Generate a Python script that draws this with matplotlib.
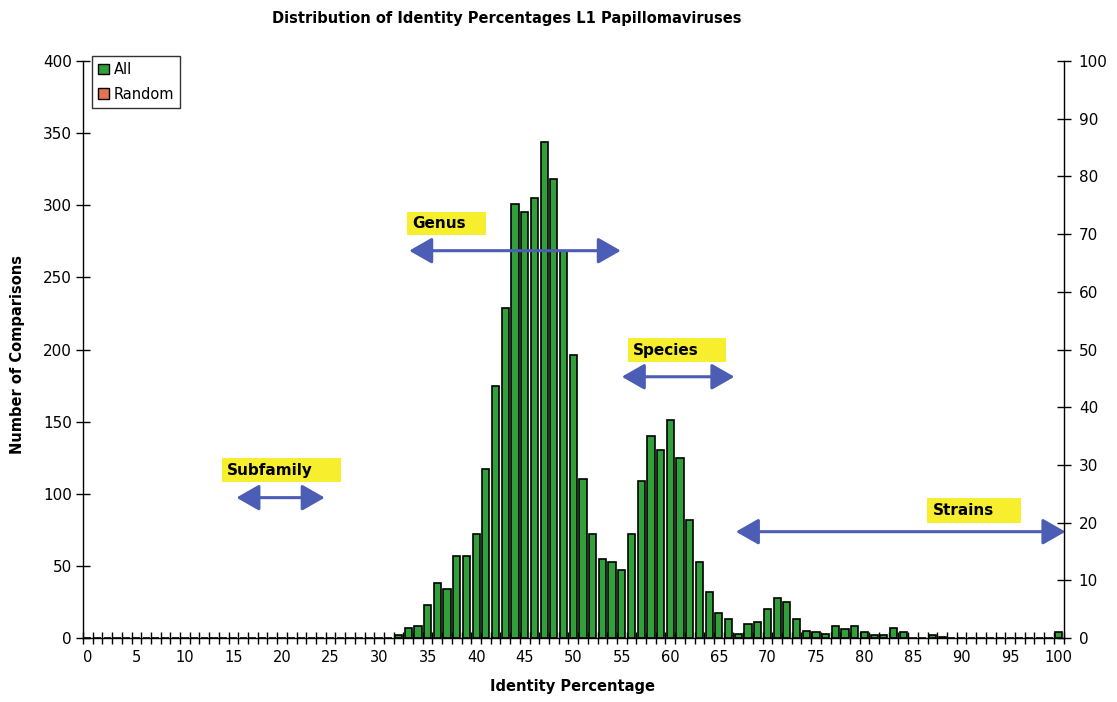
import matplotlib
matplotlib.use("Agg")
import matplotlib.pyplot as plt
from matplotlib.patches import Patch, Rectangle
import numpy as np

# ---------------- data ----------------
identity = list(range(0, 101))
all_counts = ([0] * 32 +
              [2, 7, 8, 23, 38, 34, 57, 57, 72, 117,          # 32-41
               175, 229, 301, 295, 305, 344, 318, 268, 196, 110,  # 42-51
               72, 55, 53, 47, 72, 109, 140, 130, 151, 125,   # 52-61
               82, 53, 32, 17, 13, 3, 10, 11, 20, 28,         # 62-71
               25, 13, 5, 4, 3, 8, 6, 8, 4, 2,                # 72-81
               2, 7, 4, 0, 0, 2, 1] +                         # 82-88
              [0] * 11 + [4])                                 # 89-99, 100
random_counts = [0] * 101

xtick_labels = [str(v) for v in range(0, 101, 5)]
left_yticks = list(range(0, 401, 50))
right_yticks = list(range(0, 101, 10))

# annotation ranges (data units): label, text x, box x0, x1, y0, y1, arrow x0, x1, arrow y
annotations = [
    ("Subfamily", 14.3, 13.8, 26.1, 108.1, 124.8, 15.3, 24.4, 97.3),
    ("Genus", 33.4, 32.9, 41.0, 279.4, 295.3, 33.1, 54.9, 268.5),
    ("Species", 56.1, 55.6, 65.7, 191.3, 208.0, 55.0, 66.6, 181.1),
    ("Strains", 87.0, 86.4, 96.1, 79.9, 97.1, 66.75, 100.7, 73.7),
]

GREEN = "#32a03a"
SALMON = "#e07455"
BLUE = "#4b5db4"
YELLOW = "#f7ef2e"

fig = plt.figure(figsize=(11.17, 7.02), dpi=100)
fig.patch.set_facecolor("white")
ax = fig.add_axes([83 / 1117, 1 - 638 / 702, (1063.5 - 83) / 1117, (638 - 61) / 702])

ax.bar(identity, all_counts, width=0.74, color=GREEN, edgecolor="black",
       linewidth=1.2, zorder=2)

ax.set_xlim(-0.5, 100.5)
ax.set_ylim(0, 400)

ax.set_xticks(range(0, 101, 5))
ax.set_xticklabels(xtick_labels, fontsize=10.5, family="DejaVu Sans")
ax.set_xticks(np.arange(-0.5, 101, 1.0), minor=True)
ax.tick_params(axis="x", which="major", length=0, pad=9)
ax.tick_params(axis="x", which="minor", direction="inout", length=8, width=1)

ax.set_yticks(left_yticks)
ax.set_yticklabels([str(v) for v in left_yticks], fontsize=11, family="DejaVu Sans")
ax.tick_params(axis="y", direction="inout", length=10, width=1, pad=3)

for s in ["top", "right"]:
    ax.spines[s].set_visible(False)
for s in ["left", "bottom"]:
    ax.spines[s].set_linewidth(1.0)

ax2 = ax.twinx()
ax2.bar(identity, random_counts, width=0.74, color=SALMON, edgecolor="none",
        linewidth=0, zorder=1)
ax2.set_ylim(0, 100)
ax2.set_yticks(right_yticks)
ax2.set_yticklabels([str(v) for v in right_yticks], fontsize=11, family="DejaVu Sans")
ax2.tick_params(axis="y", direction="inout", length=10, width=1, pad=6)
for s in ["top", "left", "bottom"]:
    ax2.spines[s].set_visible(False)
ax2.spines["right"].set_linewidth(1.0)

# annotations
for label, tx, bx0, bx1, by0, by1, ax0, ax1, ay in annotations:
    ax.add_patch(Rectangle((bx0, by0), bx1 - bx0, by1 - by0, facecolor=YELLOW,
                           edgecolor="none", zorder=4))
    ax.text(tx, (by0 + by1) / 2, label, fontsize=11, fontweight="bold",
            ha="left", va="center", zorder=5, family="DejaVu Sans")
    ax.annotate("", xy=(ax1, ay), xytext=(ax0, ay),
                arrowprops=dict(arrowstyle="<|-|>,head_length=0.7,head_width=0.4",
                                mutation_scale=20, color=BLUE, lw=2.2,
                                shrinkA=0, shrinkB=0),
                annotation_clip=False, zorder=6)

handles = [Patch(facecolor=GREEN, edgecolor="black", linewidth=1, label="All"),
           Patch(facecolor=SALMON, edgecolor="black", linewidth=1, label="Random")]
leg = ax.legend(handles=handles, loc="upper left", bbox_to_anchor=(0.0095, 1.008),
                borderaxespad=0, fancybox=False, frameon=True, fontsize=10.5,
                handlelength=0.75, handleheight=0.75, handletextpad=0.3,
                borderpad=0.4, labelspacing=0.65)
leg.get_frame().set_edgecolor("black")
leg.get_frame().set_linewidth(1.0)
leg.set_zorder(10)

fig.text(507 / 1117, 1 - 18 / 702, "Distribution of Identity Percentages L1 Papillomaviruses",
         ha="center", va="center", fontsize=10.5, fontweight="bold", family="DejaVu Sans")
fig.text(573 / 1117, 1 - 687 / 702, "Identity Percentage", ha="center", va="center",
         fontsize=10.5, fontweight="bold", family="DejaVu Sans")
fig.text(18 / 1117, 1 - 355 / 702, "Number of Comparisons", ha="center", va="center",
         rotation=90, fontsize=10.5, fontweight="bold", family="DejaVu Sans")

fig.savefig("out.png", dpi=100, facecolor="white")
